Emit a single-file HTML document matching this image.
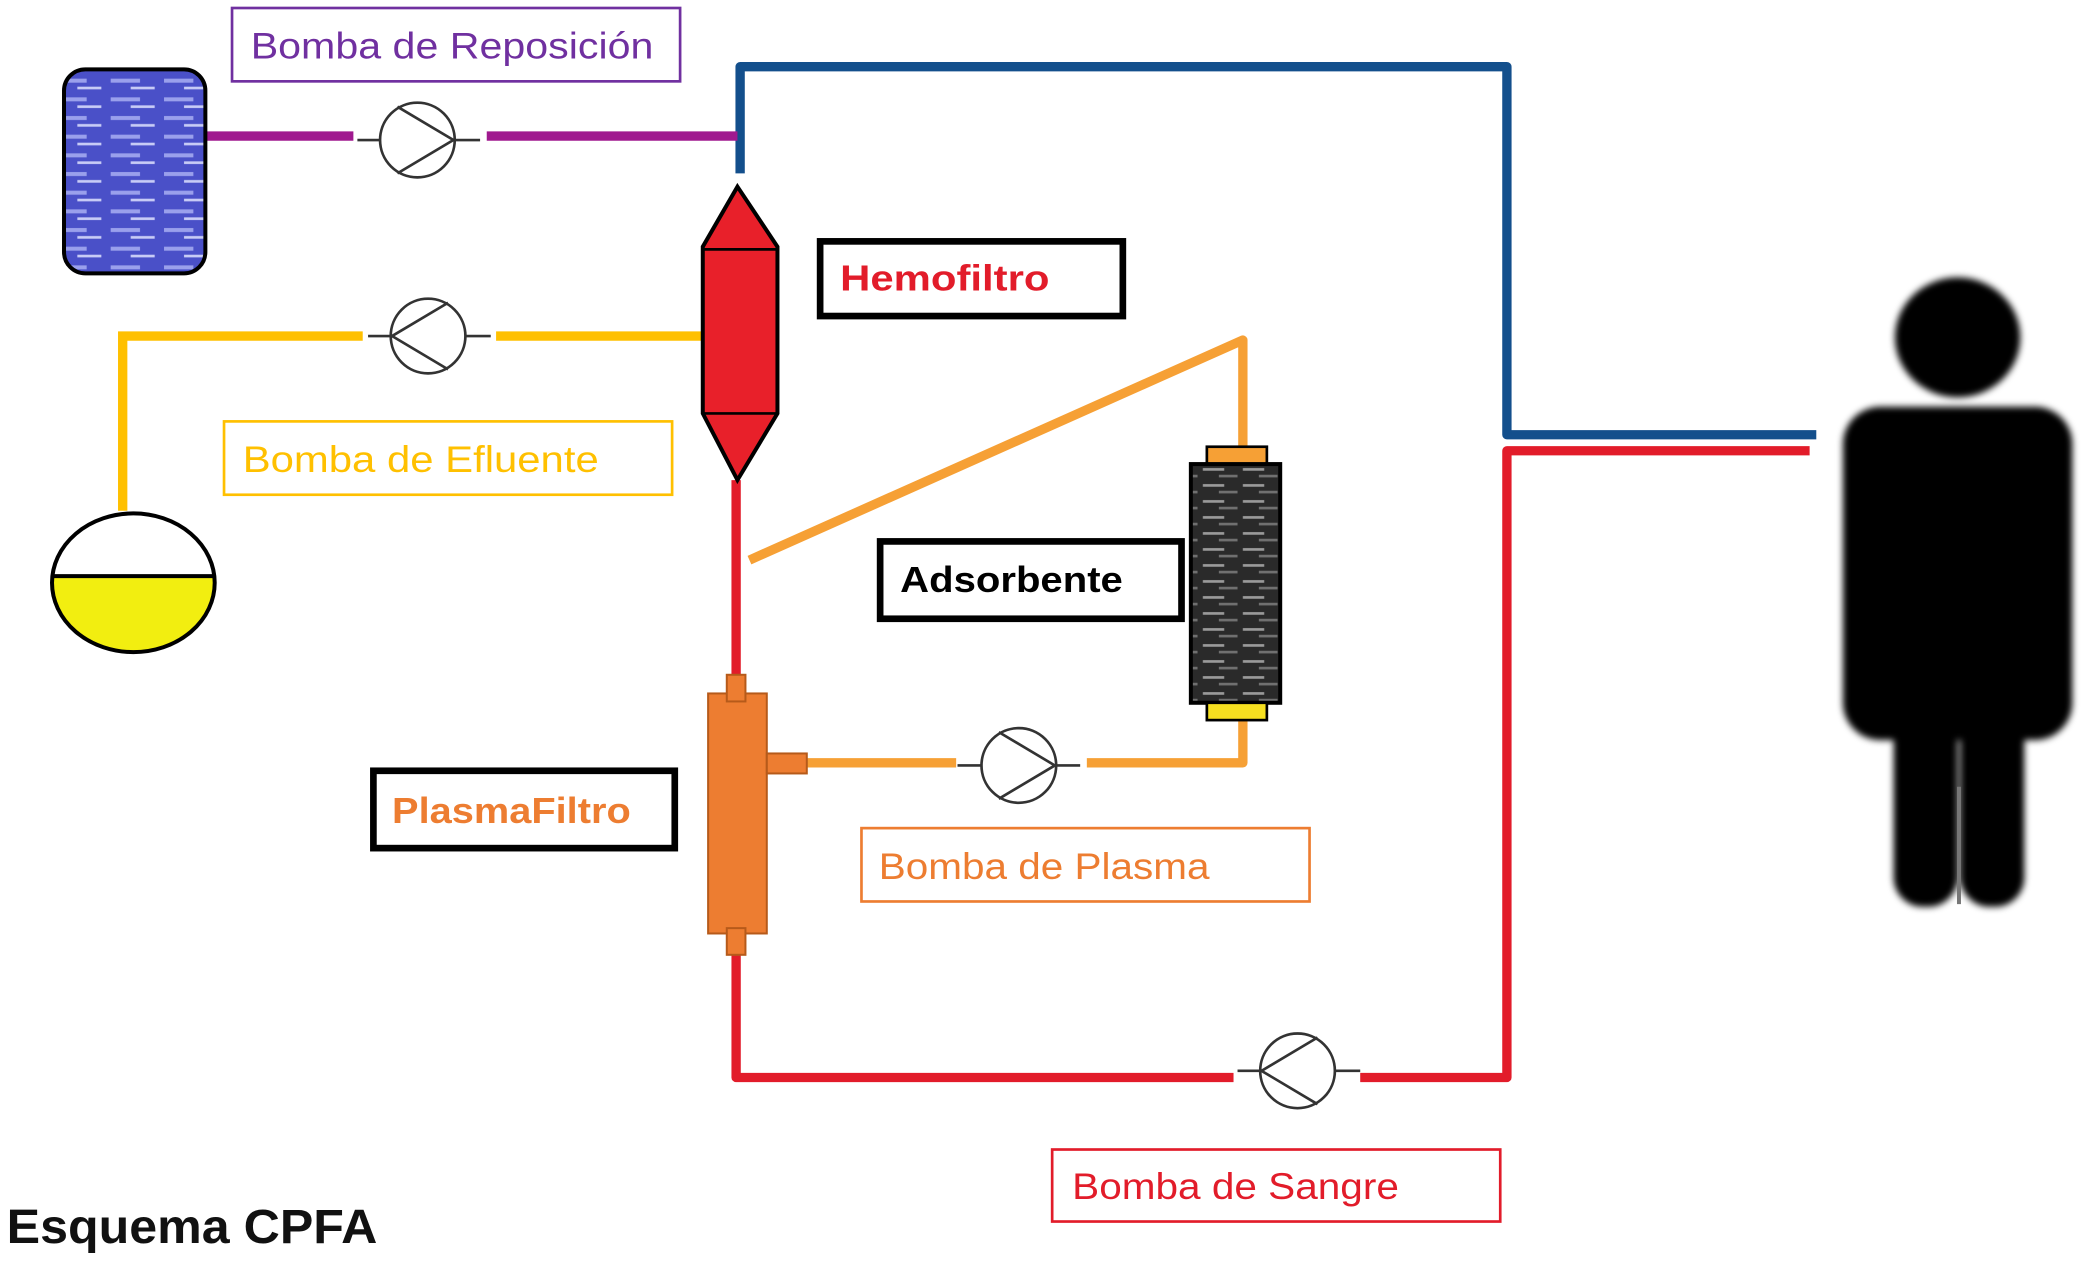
<!DOCTYPE html>
<html><head><meta charset="utf-8"><style>
html,body{margin:0;padding:0;background:#fff;}
svg{display:block;}
text{font-family:"Liberation Sans",sans-serif;}
</style></head><body>
<svg width="2091" height="1261" viewBox="0 0 1568 945.6" xmlns="http://www.w3.org/2000/svg">
<defs>
<filter id="bl" x="-10%" y="-10%" width="120%" height="120%"><feGaussianBlur stdDeviation="2.5"/></filter>
<pattern id="bluep" width="40" height="14" patternUnits="userSpaceOnUse">
<rect width="40" height="14" fill="#4a50c8"/><rect x="3" y="3" width="22" height="3" fill="#9aa0ec"/><rect x="18" y="9" width="18" height="2" fill="#c8ccf6"/>
</pattern>
<pattern id="darkp" width="30" height="12" patternUnits="userSpaceOnUse">
<rect width="30" height="12" fill="#2a2a2a"/><rect x="2" y="3" width="16" height="2" fill="#9a9a9a"/><rect x="14" y="8" width="14" height="2" fill="#707070"/>
</pattern>
</defs>
<rect width="1568" height="945.6" fill="#fff"/>

<g fill="none" stroke-width="7" stroke-linecap="butt">
<polyline points="555,130 555,50 1130,50 1130,326 1362,326" stroke="#134f8c" stroke-linejoin="round"/>
<line x1="154" y1="102" x2="265" y2="102" stroke="#a0198f"/>
<line x1="365" y1="102" x2="553" y2="102" stroke="#a0198f"/>
<polyline points="527,252 372,252" stroke="#ffc000"/>
<polyline points="272,252 92,252 92,383" stroke="#ffc000"/>
<polyline points="562,420 932,255 932,335" stroke="#f6a035" stroke-linejoin="round"/>
<polyline points="605,572 717,572" stroke="#f6a035"/>
<polyline points="815,572 932,572 932,540" stroke="#f6a035" stroke-linejoin="round"/>
<line x1="552" y1="360" x2="552" y2="508" stroke="#e21c2a"/>
<polyline points="552,715 552,808 925,808" stroke="#e21c2a" stroke-linejoin="round"/>
<polyline points="1020,808 1130,808 1130,338 1357,338" stroke="#e21c2a" stroke-linejoin="round"/>
</g>

<g fill="#fff" stroke="#333" stroke-width="2">
<line x1="268" y1="105" x2="360" y2="105"/>
<circle cx="313" cy="105" r="28"/><polyline points="298,80 340,105 298,130" fill="none"/>
<line x1="276" y1="252" x2="368" y2="252"/>
<circle cx="321" cy="252" r="28"/><polyline points="336,227 294,252 336,277" fill="none"/>
<line x1="718" y1="574" x2="810" y2="574"/>
<circle cx="764" cy="574" r="28"/><polyline points="749,549 791,574 749,599" fill="none"/>
<line x1="928" y1="803" x2="1020" y2="803"/>
<circle cx="973" cy="803" r="28"/><polyline points="988,778 946,803 988,828" fill="none"/>
</g>

<rect x="48" y="52" width="106" height="153" rx="16" fill="url(#bluep)" stroke="#000" stroke-width="3"/>

<clipPath id="ec"><ellipse cx="100" cy="437" rx="61" ry="52"/></clipPath>
<rect x="30" y="432" width="140" height="70" fill="#f2ee10" clip-path="url(#ec)"/>
<ellipse cx="100" cy="437" rx="61" ry="52" fill="none" stroke="#000" stroke-width="3"/>
<line x1="39" y1="432" x2="161" y2="432" stroke="#000" stroke-width="3"/>

<polygon points="553,140 583,185 583,310 553,360 527,310 527,185" fill="#e8202a" stroke="#000" stroke-width="3"/>
<line x1="527" y1="187" x2="583" y2="187" stroke="#000" stroke-width="2"/>
<line x1="527" y1="310" x2="583" y2="310" stroke="#000" stroke-width="2"/>

<rect x="531" y="520" width="44" height="180" fill="#ed7d31" stroke="#b65a1a" stroke-width="1.5"/>
<rect x="545" y="506" width="14" height="20" fill="#ed7d31" stroke="#b65a1a" stroke-width="1.5"/>
<rect x="545" y="696" width="14" height="20" fill="#ed7d31" stroke="#b65a1a" stroke-width="1.5"/>
<rect x="575" y="565" width="30" height="15" fill="#ed7d31" stroke="#b65a1a" stroke-width="1.5"/>

<rect x="905" y="335" width="45" height="13" fill="#f6a035" stroke="#000" stroke-width="2"/>
<rect x="893" y="348" width="67" height="179" fill="url(#darkp)" stroke="#000" stroke-width="3"/>
<rect x="905" y="527" width="45" height="13" fill="#f6e020" stroke="#000" stroke-width="2"/>

<rect x="174" y="6" width="336" height="55" fill="#fff" stroke="#7030a0" stroke-width="2"/>
<text x="188" y="44" font-size="28" fill="#7030a0" textLength="302" lengthAdjust="spacingAndGlyphs">Bomba de Reposición</text>
<rect x="168" y="316" width="336" height="55" fill="#fff" stroke="#ffc000" stroke-width="2"/>
<text x="182" y="354" font-size="28" fill="#ffc000" textLength="267" lengthAdjust="spacingAndGlyphs">Bomba de Efluente</text>
<rect x="646" y="621" width="336" height="55" fill="#fff" stroke="#ed7d31" stroke-width="2"/>
<text x="659" y="659" font-size="28" fill="#ed7d31" textLength="248" lengthAdjust="spacingAndGlyphs">Bomba de Plasma</text>
<rect x="789" y="862" width="336" height="54" fill="#fff" stroke="#e21c2a" stroke-width="2"/>
<text x="804" y="899" font-size="28" fill="#e21c2a" textLength="245" lengthAdjust="spacingAndGlyphs">Bomba de Sangre</text>

<rect x="615" y="181" width="227" height="56" fill="#fff" stroke="#000" stroke-width="5"/>
<text x="630" y="218" font-size="27" font-weight="bold" fill="#e21c2a" textLength="157" lengthAdjust="spacingAndGlyphs">Hemofiltro</text>
<rect x="660" y="406" width="226" height="58" fill="#fff" stroke="#000" stroke-width="5"/>
<text x="675" y="444" font-size="27" font-weight="bold" fill="#000" textLength="167" lengthAdjust="spacingAndGlyphs">Adsorbente</text>
<rect x="280" y="578" width="226" height="58" fill="#fff" stroke="#000" stroke-width="5"/>
<text x="294" y="617" font-size="27" font-weight="bold" fill="#ed7d31" textLength="179" lengthAdjust="spacingAndGlyphs">PlasmaFiltro</text>

<text x="5" y="932" font-size="36" font-weight="bold" fill="#111" textLength="278" lengthAdjust="spacingAndGlyphs">Esquema CPFA</text>

<g filter="url(#bl)" fill="#000">
<ellipse cx="1468" cy="253" rx="47" ry="45"/>
<rect x="1382" y="305" width="172" height="250" rx="28"/>
<rect x="1420" y="500" width="48" height="180" rx="22"/>
<rect x="1470" y="500" width="48" height="180" rx="22"/>
</g>
<line x1="1469" y1="590" x2="1469" y2="678" stroke="#777" stroke-width="3"/>
</svg>
</body></html>
